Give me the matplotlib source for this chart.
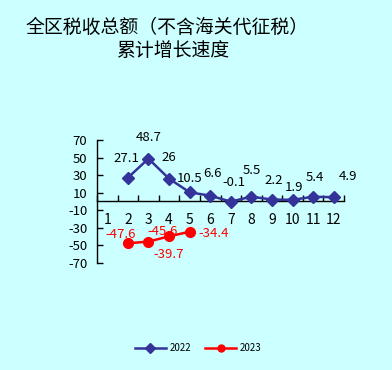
import matplotlib
matplotlib.use("Agg")
import matplotlib.pyplot as plt
from matplotlib.lines import Line2D

plt.rcParams['font.family'] = ['Noto Sans CJK SC', 'DejaVu Sans']
plt.rcParams['axes.unicode_minus'] = False

months = [1, 2, 3, 4, 5, 6, 7, 8, 9, 10, 11, 12]
x2022 = [2, 3, 4, 5, 6, 7, 8, 9, 10, 11, 12]
v2022 = [27.1, 48.7, 26, 10.5, 6.6, -0.1, 5.5, 2.2, 1.9, 5.4, 4.9]
lab2022 = ["27.1", "48.7", "26", "10.5", "6.6", "-0.1", "5.5", "2.2", "1.9", "5.4", "4.9"]
x2023 = [2, 3, 4, 5]
v2023 = [-47.6, -45.6, -39.7, -34.4]
lab2023 = ["-47.6", "-45.6", "-39.7", "-34.4"]
yticks = [-70, -50, -30, -10, 10, 30, 50, 70]
series_names = ["2022", "2023"]
title1 = "全区税收总额（不含海关代征税）"
title2 = "累计增长速度"

# label offsets in points (style only)
off2022 = [(-1, 14), (0, 15), (0, 15), (0, 10), (2, 16), (2, 14), (0, 19), (1, 14), (1, 9), (1, 14), (10, 15)]
off2023 = [(-5, 6), (10, 7), (0, -13), (17, -1)]

bg = '#CCFFFF'
blue = '#333399'
red = '#FF0000'

fig = plt.figure(figsize=(3.92, 3.70), dpi=100, facecolor=bg)
ax = fig.add_axes([97/392, 1-263/370, (344-97)/392, (263-140)/370])
ax.set_facecolor(bg)

ax.plot(x2022, v2022, color=blue, lw=1.8, marker='D', ms=6.5, mfc=blue, mec=blue, zorder=3)
ax.plot(x2023, v2023, color=red, lw=1.8, marker='o', ms=7, mfc=red, mec=red, zorder=3)

fs = 9.5
for xi, yi, t, o in zip(x2022, v2022, lab2022, off2022):
    ax.annotate(t, (xi, yi), xytext=o, textcoords='offset points', ha='center', va='center',
                fontsize=fs, color='black')
for xi, yi, t, o in zip(x2023, v2023, lab2023, off2023):
    ax.annotate(t, (xi, yi), xytext=o, textcoords='offset points', ha='center', va='center',
                fontsize=fs, color=red)

ax.set_xlim(0.5, 12.5)
ax.set_ylim(-70, 70)
ax.set_yticks(yticks)
ax.set_yticklabels([str(v) for v in yticks], fontsize=fs)
ax.set_xticks(months)
ax.set_xticklabels([str(m) for m in months], fontsize=fs)
ax.set_xticks([m + 0.5 for m in [0] + months], minor=True)
ax.tick_params(axis='x', which='major', length=0, pad=8)
ax.tick_params(axis='x', which='minor', direction='in', length=4, width=1)
ax.tick_params(axis='y', direction='in', length=4, width=1, pad=7)

for s in ['top', 'right']:
    ax.spines[s].set_visible(False)
ax.spines['bottom'].set_position(('data', 0))
ax.spines['bottom'].set_linewidth(1)
ax.spines['left'].set_linewidth(1)

fig.text(167/392, 1-27/370, title1, ha='center', va='center', fontsize=13.6)
fig.text(173/392, 1-51/370, title2, ha='center', va='center', fontsize=13.6)

handles = [Line2D([], [], color=blue, lw=1.8, marker='D', ms=5),
           Line2D([], [], color=red, lw=1.8, marker='o', ms=5)]
fig.legend(handles, series_names, loc='center', bbox_to_anchor=(0.506, 1-348/370), ncol=2,
           frameon=False, fontsize=7, handlelength=3.2, columnspacing=1.4, handletextpad=0.4)

fig.savefig('out.png', dpi=100, facecolor=bg)
